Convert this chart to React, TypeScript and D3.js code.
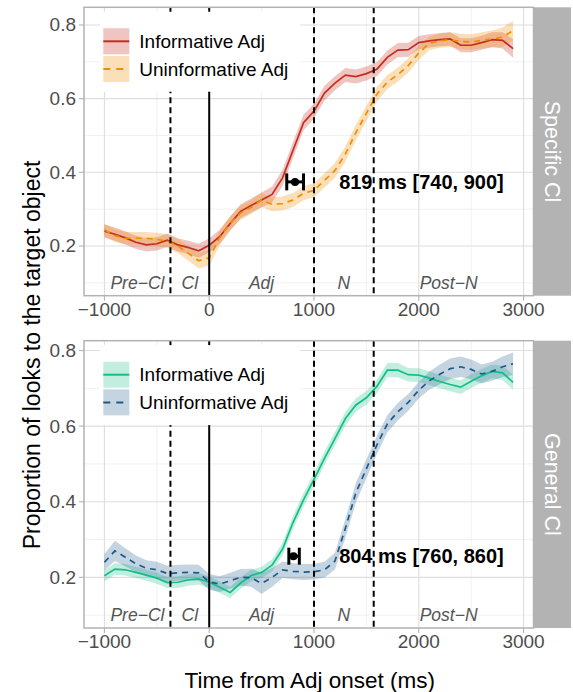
import React from "react";
import * as d3 from "d3";

// ---------- data ----------
const TIME = [
  -1000, -900, -800, -700, -600, -500, -400, -300, -200, -100,
  0, 100, 200, 300, 400, 500, 600, 700, 800, 900,
  1000, 1100, 1200, 1300, 1400, 1500, 1600, 1700, 1800, 1900,
  2000, 2100, 2200, 2300, 2400, 2500, 2600, 2700, 2800, 2900,
];

// Specific Cl panel
const SPEC_INF = [
  0.240, 0.232, 0.222, 0.210, 0.203, 0.206, 0.216, 0.203, 0.196, 0.187,
  0.202, 0.225, 0.261, 0.294, 0.310, 0.325, 0.340, 0.385, 0.460, 0.535,
  0.566, 0.615, 0.642, 0.664, 0.660, 0.668, 0.680, 0.712, 0.732, 0.733,
  0.752, 0.757, 0.760, 0.762, 0.745, 0.745, 0.752, 0.760, 0.758, 0.736,
];
const SPEC_INF_SE = [
  0.018, 0.018, 0.018, 0.018, 0.018, 0.018, 0.018, 0.018, 0.018, 0.019,
  0.019, 0.019, 0.019, 0.019, 0.019, 0.020, 0.021, 0.022, 0.022, 0.021,
  0.020, 0.020, 0.019, 0.019, 0.019, 0.019, 0.019, 0.019, 0.019, 0.019,
  0.018, 0.018, 0.018, 0.018, 0.019, 0.019, 0.019, 0.020, 0.022, 0.025,
];
const SPEC_UNINF = [
  0.244, 0.228, 0.221, 0.221, 0.221, 0.218, 0.213, 0.200, 0.180, 0.160,
  0.168, 0.222, 0.262, 0.290, 0.305, 0.325, 0.313, 0.315, 0.325, 0.343,
  0.351, 0.378, 0.405, 0.450, 0.508, 0.560, 0.612, 0.645, 0.665, 0.690,
  0.724, 0.750, 0.757, 0.760, 0.755, 0.754, 0.758, 0.762, 0.767, 0.785,
];
const SPEC_UNINF_SE = [
  0.017, 0.017, 0.017, 0.017, 0.017, 0.018, 0.018, 0.019, 0.020, 0.021,
  0.021, 0.020, 0.019, 0.019, 0.019, 0.019, 0.019, 0.019, 0.019, 0.019,
  0.019, 0.019, 0.020, 0.021, 0.021, 0.021, 0.020, 0.019, 0.019, 0.019,
  0.019, 0.018, 0.019, 0.020, 0.021, 0.021, 0.022, 0.023, 0.026, 0.027,
];

// General Cl panel
const GEN_INF = [
  0.204, 0.222, 0.220, 0.213, 0.206, 0.198, 0.186, 0.187, 0.193, 0.196,
  0.187, 0.174, 0.160, 0.185, 0.205, 0.213, 0.232, 0.275, 0.345, 0.405,
  0.459, 0.515, 0.567, 0.620, 0.656, 0.675, 0.705, 0.748, 0.748, 0.736,
  0.735, 0.727, 0.718, 0.710, 0.703, 0.719, 0.733, 0.745, 0.741, 0.716,
];
const GEN_INF_SE = [
  0.015, 0.015, 0.015, 0.015, 0.015, 0.015, 0.015, 0.015, 0.015, 0.015,
  0.015, 0.015, 0.015, 0.015, 0.015, 0.015, 0.016, 0.017, 0.018, 0.018,
  0.018, 0.018, 0.018, 0.018, 0.018, 0.018, 0.018, 0.019, 0.019, 0.018,
  0.018, 0.018, 0.018, 0.018, 0.018, 0.018, 0.018, 0.018, 0.019, 0.020,
];
const GEN_UNINF = [
  0.240, 0.270, 0.253, 0.236, 0.224, 0.220, 0.210, 0.212, 0.213, 0.212,
  0.188, 0.182, 0.191, 0.200, 0.199, 0.184, 0.200, 0.220, 0.216, 0.214,
  0.215, 0.220, 0.243, 0.330, 0.424, 0.487, 0.550, 0.606, 0.638, 0.663,
  0.695, 0.720, 0.737, 0.752, 0.757, 0.750, 0.738, 0.745, 0.757, 0.765,
];
const GEN_UNINF_SE = [
  0.022, 0.027, 0.024, 0.022, 0.021, 0.021, 0.021, 0.021, 0.021, 0.021,
  0.021, 0.021, 0.021, 0.022, 0.024, 0.028, 0.025, 0.022, 0.021, 0.021,
  0.021, 0.021, 0.022, 0.025, 0.026, 0.025, 0.024, 0.023, 0.023, 0.022,
  0.022, 0.024, 0.026, 0.027, 0.027, 0.026, 0.025, 0.025, 0.027, 0.030,
];

const SERIES_NAMES = ["Informative Adj", "Uninformative Adj"];
const FACETS = ["Specific Cl", "General Cl"];

// divergence point estimates with bootstrap CIs
const DIV_EST = [819, 804];
const DIV_LO = [740, 760];
const DIV_HI = [900, 860];
const DIV_Y = [0.374, 0.256];
const DIV_LABEL_X = 1240;

const X_LIMITS = [-1195, 3095];
const Y_LIMITS_TOP = [0.065, 0.848];
const Y_LIMITS_BOTTOM = [0.066, 0.826];
const X_TICKS = [-1000, 0, 1000, 2000, 3000];
const X_MINOR = [-500, 500, 1500, 2500];
const Y_TICKS = [0.2, 0.4, 0.6, 0.8];
const Y_MINOR = [0.1, 0.3, 0.5, 0.7];

const PHASE_BOUNDS = [-1000, -370, 0, 1000, 1570, 3000];
const PHASE_LABELS = ["Pre\u2212Cl", "Cl", "Adj", "N", "Post\u2212N"];
const PHASE_LABEL_Y = 0.1;
const DASHED_LINES = [-370, 1000, 1570];
const SOLID_LINES = [0];

// ---------- styles ----------
const FONT = "'Liberation Sans', Arial, Helvetica, sans-serif";
const PALETTES = [
  ["#C62D1F", "#F28C00"],
  ["#12BF88", "#1D5A8C"],
];
const RIBBON_OPACITY = [0.28, 0.26];

function fmtTick(v: number) {
  return v < 0 ? "\u2212" + Math.abs(v) : String(v);
}

type PanelProps = {
  idx: number;
  top: number;
  bottom: number;
  left: number;
  right: number;
  yLimits: number[];
  inf: number[];
  infSe: number[];
  un: number[];
  unSe: number[];
};

function Panel({ idx, top, bottom, left, right, yLimits, inf, infSe, un, unSe }: PanelProps) {
  const x = d3.scaleLinear().domain(X_LIMITS).range([left, right]);
  const y = d3.scaleLinear().domain(yLimits).range([bottom, top]);
  const colors = PALETTES[idx];
  const series = [
    { vals: inf, se: infSe, color: colors[0], dash: undefined as string | undefined },
    { vals: un, se: unSe, color: colors[1], dash: "6,5" },
  ];
  const line = d3
    .line<number>()
    .x((_, i) => x(TIME[i]))
    .y((d) => y(d));
  const areaFor = (vals: number[], se: number[]) =>
    d3
      .area<number>()
      .x((_, i) => x(TIME[i]))
      .y0((d, i) => y(d - se[i]))
      .y1((d, i) => y(d + se[i]))(vals) || "";

  const stripW = 37.5;
  const legTop = top + 4.4;
  const key1 = top + 21;
  const keyH = 26;
  const keyGap = 1.7;

  const ey = y(DIV_Y[idx]);

  return (
    <g>
      {/* grid */}
      {X_MINOR.map((t) => (
        <line key={"xm" + t} x1={x(t)} x2={x(t)} y1={top} y2={bottom} stroke="#ebebeb" strokeWidth={0.7} />
      ))}
      {Y_MINOR.map((t) => (
        <line key={"ym" + t} x1={left} x2={right} y1={y(t)} y2={y(t)} stroke="#ebebeb" strokeWidth={0.7} />
      ))}
      {X_TICKS.map((t) => (
        <line key={"xg" + t} x1={x(t)} x2={x(t)} y1={top} y2={bottom} stroke="#dedede" strokeWidth={1.1} />
      ))}
      {Y_TICKS.map((t) => (
        <line key={"yg" + t} x1={left} x2={right} y1={y(t)} y2={y(t)} stroke="#dedede" strokeWidth={1.1} />
      ))}

      {/* ribbons */}
      {series.map((s, i) => (
        <path key={"r" + i} d={areaFor(s.vals, s.se)} fill={s.color} fillOpacity={RIBBON_OPACITY[idx]} stroke="none" />
      ))}
      {/* lines */}
      {series.map((s, i) => (
        <path key={"l" + i} d={line(s.vals) || ""} fill="none" stroke={s.color} strokeWidth={1.7} strokeDasharray={s.dash} />
      ))}

      {/* phase boundaries */}
      {DASHED_LINES.map((t) => (
        <line key={"dl" + t} x1={x(t)} x2={x(t)} y1={top} y2={bottom} stroke="#000" strokeWidth={2} strokeDasharray="6,4" />
      ))}
      {SOLID_LINES.map((t) => (
        <line key={"sl" + t} x1={x(t)} x2={x(t)} y1={top} y2={bottom} stroke="#000" strokeWidth={2} />
      ))}

      {/* phase labels */}
      {PHASE_LABELS.map((lab, i) => (
        <text
          key={"pl" + i}
          x={x((PHASE_BOUNDS[i] + PHASE_BOUNDS[i + 1]) / 2)}
          y={y(PHASE_LABEL_Y)}
          textAnchor="middle"
          dominantBaseline="central"
          fontFamily={FONT}
          fontStyle="italic"
          fontSize={17.5}
          fill="#555"
        >
          {lab}
        </text>
      ))}

      {/* divergence point */}
      <g stroke="#000" strokeWidth={3}>
        <line x1={x(DIV_LO[idx])} x2={x(DIV_HI[idx])} y1={ey} y2={ey} />
        <line x1={x(DIV_LO[idx])} x2={x(DIV_LO[idx])} y1={ey - 8.5} y2={ey + 8.5} />
        <line x1={x(DIV_HI[idx])} x2={x(DIV_HI[idx])} y1={ey - 8.5} y2={ey + 8.5} />
      </g>
      <circle cx={x(DIV_EST[idx])} cy={ey} r={4} fill="#000" />
      <text
        x={x(DIV_LABEL_X)}
        y={ey}
        dominantBaseline="central"
        fontFamily={FONT}
        fontWeight="bold"
        fontSize={20}
        fill="#000"
      >
        {`${DIV_EST[idx]} ms [${DIV_LO[idx]}, ${DIV_HI[idx]}]`}
      </text>

      {/* legend */}
      <rect x={100} y={legTop} width={200} height={80} fill="#fff" />
      {series.map((s, i) => {
        const ky = key1 + i * (keyH + keyGap);
        return (
          <g key={"lg" + i}>
            <rect x={103.3} y={ky} width={26} height={keyH} fill={s.color} fillOpacity={RIBBON_OPACITY[idx]} />
            <line x1={103.3} x2={129.3} y1={ky + keyH / 2} y2={ky + keyH / 2} stroke={s.color} strokeWidth={2} strokeDasharray={s.dash ? "7,6" : undefined} />
            <text x={139.3} y={ky + keyH / 2} dominantBaseline="central" fontFamily={FONT} fontSize={19} fill="#000">
              {SERIES_NAMES[i]}
            </text>
          </g>
        );
      })}

      {/* border */}
      <rect x={left} y={top} width={right - left} height={bottom - top} fill="none" stroke="#b3b3b3" strokeWidth={1.5} />

      {/* strip */}
      <rect x={right} y={top} width={stripW} height={bottom - top} fill="#b3b3b3" />
      <text
        transform={`translate(${right + stripW / 2},${(top + bottom) / 2}) rotate(90)`}
        textAnchor="middle"
        dominantBaseline="central"
        fontFamily={FONT}
        fontSize={21.5}
        fill="#fff"
      >
        {FACETS[idx]}
      </text>

      {/* y axis */}
      {Y_TICKS.map((t) => (
        <g key={"yt" + t}>
          <line x1={left - 5} x2={left} y1={y(t)} y2={y(t)} stroke="#b3b3b3" strokeWidth={1.1} />
          <text x={left - 8} y={y(t)} textAnchor="end" dominantBaseline="central" fontFamily={FONT} fontSize={19} fill="#4d4d4d">
            {t.toFixed(1)}
          </text>
        </g>
      ))}
      {/* x axis */}
      {X_TICKS.map((t) => (
        <g key={"xt" + t}>
          <line x1={x(t)} x2={x(t)} y1={bottom} y2={bottom + 5} stroke="#b3b3b3" strokeWidth={1.1} />
          <text x={x(t)} y={bottom + 20} textAnchor="middle" fontFamily={FONT} fontSize={19} fill="#4d4d4d">
            {fmtTick(t)}
          </text>
        </g>
      ))}
    </g>
  );
}

export default function App() {
  const W = 573;
  const H = 692;
  const left = 84;
  const right = 533.5;
  return (
    <svg width={W} height={H} style={{ position: "absolute", left: 0, top: 0, background: "#fff" }}>
      <rect x={0} y={0} width={W} height={H} fill="#fff" />
      <Panel idx={0} top={7.3} bottom={295.7} left={left} right={right} yLimits={Y_LIMITS_TOP}
        inf={SPEC_INF} infSe={SPEC_INF_SE} un={SPEC_UNINF} unSe={SPEC_UNINF_SE} />
      <Panel idx={1} top={340.7} bottom={628} left={left} right={right} yLimits={Y_LIMITS_BOTTOM}
        inf={GEN_INF} infSe={GEN_INF_SE} un={GEN_UNINF} unSe={GEN_UNINF_SE} />
      <text x={(left + right) / 2 + 1} y={680} textAnchor="middle" dominantBaseline="central" fontFamily={FONT} fontSize={22.5} fill="#000">
        Time from Adj onset (ms)
      </text>
      <text transform={`translate(32,355) rotate(-90)`} textAnchor="middle" dominantBaseline="central" fontFamily={FONT} fontSize={23} fill="#000">
        Proportion of looks to the target object
      </text>
    </svg>
  );
}
